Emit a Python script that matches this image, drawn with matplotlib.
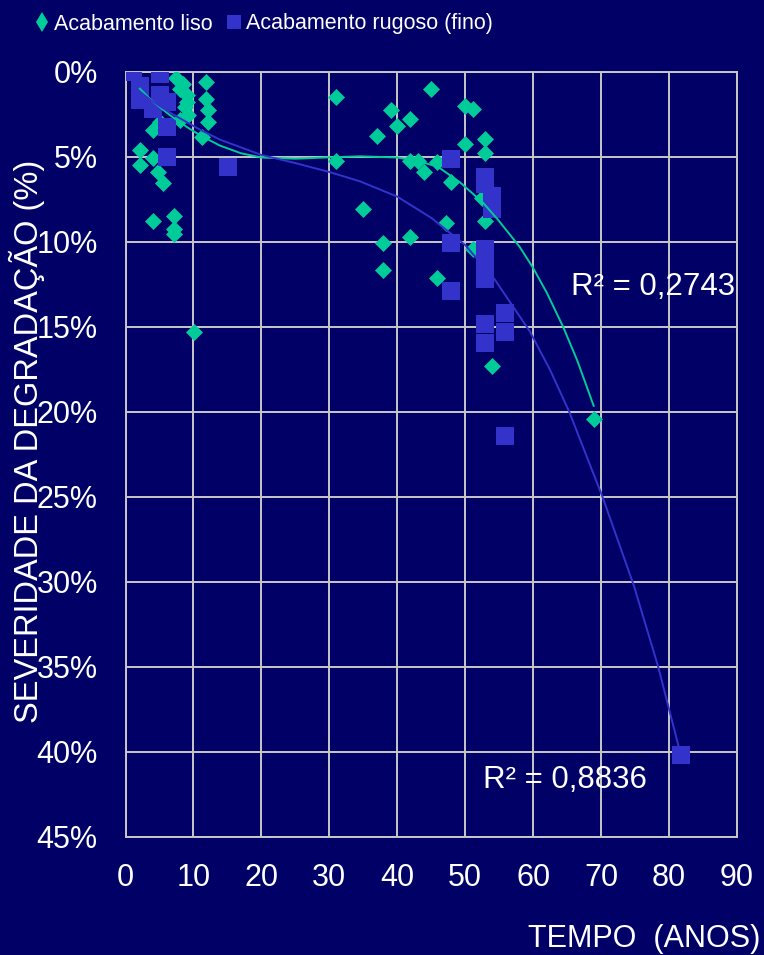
import matplotlib
matplotlib.use("Agg")
import matplotlib.pyplot as plt
from matplotlib import font_manager
from matplotlib.lines import Line2D
from matplotlib.ticker import MultipleLocator, FuncFormatter

# Acabamento liso (diamonds): tempo (anos), severidade (%)
liso_x = [2.1, 2.1, 4.1, 4.8, 5.5, 4.1, 5.1, 4.1, 7.1, 7.1, 7.1, 10.1,
          7.5, 8.5, 11.9, 9.0, 11.9, 8.75, 12.2, 9.2, 12.2, 8.0, 11.2, 8.0, 9.0,
          31.0, 45.0, 39.0, 41.9, 40.0, 37.0, 50.0, 51.1, 50.0, 52.9, 52.9,
          31.0, 41.9, 43.0, 44.0, 45.9, 47.9, 34.9, 47.1, 52.9, 52.5,
          37.9, 41.9, 51.1, 37.9, 45.9, 53.9, 68.9]
liso_y = [4.6, 5.5, 5.1, 5.9, 6.55, 3.45, 2.95, 8.8, 8.5, 9.27, 9.55, 15.3,
          0.4, 0.7, 0.6, 1.4, 1.6, 2.1, 2.27, 2.56, 2.95, 2.86, 3.84, 1.0, 1.8,
          1.5, 1.04, 2.25, 2.78, 3.17, 3.76, 2.05, 2.19, 4.25, 3.96, 4.8,
          5.25, 5.23, 5.23, 5.9, 5.3, 6.47, 8.1, 8.9, 8.8, 7.45,
          10.06, 9.75, 10.4, 11.67, 12.15, 17.3, 20.4]

# Acabamento rugoso (fino) (squares)
rugoso_x = [1.15, 5.1, 2.1, 2.1, 5.1, 6.05, 4.1, 6.05, 6.05, 15.1,
            47.9, 47.9, 47.9, 52.9, 52.9, 53.9, 53.9, 53.9,
            52.9, 52.9, 52.9, 52.9, 52.9, 52.9, 55.9, 55.9, 55.9, 81.8]
rugoso_y = [0.02, 0.12, 0.85, 1.66, 1.4, 1.8, 2.2, 3.25, 5.0, 5.6,
            5.15, 10.06, 12.9, 6.2, 6.6, 7.3, 7.7, 8.1,
            10.4, 10.9, 11.5, 12.2, 14.85, 15.94, 14.2, 15.3, 21.4, 40.2]

# polynomial trendlines as they appear in the picture
trend_liso_x = [2.1, 4, 6.5, 9, 11, 13.9, 17, 20, 25, 30, 34.5, 40, 43, 46,
                49.2, 52.6, 54.8, 58, 60, 62, 64.4, 66.5, 68.9]
trend_liso_y = [1.0, 1.75, 2.55, 3.25, 3.75, 4.35, 4.8, 5.05, 5.12, 5.04, 4.98,
                5.05, 5.25, 5.6, 6.5, 7.7, 8.7, 10.3, 11.55, 13.0, 15.0, 17.0, 19.65]
trend_rug_x = [1.15, 4, 6.5, 10.9, 13.9, 20, 25, 30, 34.5, 40, 45, 50, 54.3,
               59.5, 62.5, 65.3, 70.2, 74.8, 78.4, 81.8]
trend_rug_y = [0.9, 1.75, 2.4, 3.4, 4.0, 4.9, 5.38, 5.9, 6.45, 7.35, 8.6, 10.2,
               12.2, 15.27, 17.55, 20.0, 25.0, 30.2, 35.0, 40.3]

r2_liso = "R² = 0,2743"
r2_rugoso = "R² = 0,8836"

BG = "#000066"
GREEN = "#00CC99"
BLUE = "#3333CC"
GRID = "#C8C8C8"

plt.rcParams["font.family"] = ["Liberation Sans", "DejaVu Sans"]
names = {f.name for f in font_manager.fontManager.ttflist}
if "Liberation Sans Narrow" in names:
    leg_font = {"family": "Liberation Sans Narrow", "size": 19}
else:
    leg_font = {"family": "Liberation Sans", "size": 15.5}

fig = plt.figure(figsize=(7.64, 9.55), dpi=100, facecolor=BG)
ax = fig.add_axes([0.1643, 0.1236, 0.8004, 0.8014])
ax.set_facecolor(BG)

ax.scatter(liso_x, liso_y, marker="D", s=75, color=GREEN, linewidths=0, zorder=3)
ax.scatter(rugoso_x, rugoso_y, marker="s", s=165, color=BLUE, linewidths=0, zorder=3)
ax.plot(trend_liso_x, trend_liso_y, color=GREEN, lw=1.4, zorder=4)
ax.plot(trend_rug_x, trend_rug_y, color=BLUE, lw=1.4, zorder=4)

ax.text(65.5, 12.66, r2_liso, color="white", fontsize=22.5, ha="left", va="center", zorder=5)
ax.text(52.6, 41.65, r2_rugoso, color="white", fontsize=22.5, ha="left", va="center", zorder=5)

ax.set_xlim(0, 90)
ax.set_ylim(45, 0)
ax.xaxis.set_major_locator(MultipleLocator(10))
ax.yaxis.set_major_locator(MultipleLocator(5))
ax.yaxis.set_major_formatter(FuncFormatter(lambda v, p: f"{v:.0f}%"))
ax.grid(True, color=GRID, lw=1.4, zorder=0)
ax.set_axisbelow(True)
for sp in ax.spines.values():
    sp.set_color(GRID)
    sp.set_linewidth(1.4)
ax.tick_params(length=0, labelsize=22, labelcolor="white")
ax.tick_params(axis="x", pad=19)
ax.tick_params(axis="y", pad=20)

ax.set_xlabel("TEMPO  (ANOS)", color="white", fontsize=22, ha="right", va="center")
ax.xaxis.set_label_coords(1.0376, -0.133)
ax.set_ylabel("SEVERIDADE DA DEGRADAÇÃO (%)", color="white", fontsize=23.5,
              ha="center", va="center")
ax.yaxis.set_label_coords(-0.161, 0.517)

handles = [
    Line2D([], [], ls="none", marker="d", ms=10.5, color=GREEN, mew=0),
    Line2D([], [], ls="none", marker="s", ms=9.5, color=BLUE, mew=0),
]
leg = fig.legend(handles, ["Acabamento liso", "Acabamento rugoso (fino)"],
                 loc="center left", bbox_to_anchor=(34 / 764, 1 - 24 / 955),
                 ncol=2, frameon=False, prop=leg_font, handlelength=0.7,
                 handletextpad=0.25, columnspacing=0.6, borderpad=0,
                 borderaxespad=0)
for t in leg.get_texts():
    t.set_color("white")

fig.savefig("out.png", dpi=100, facecolor=BG)
